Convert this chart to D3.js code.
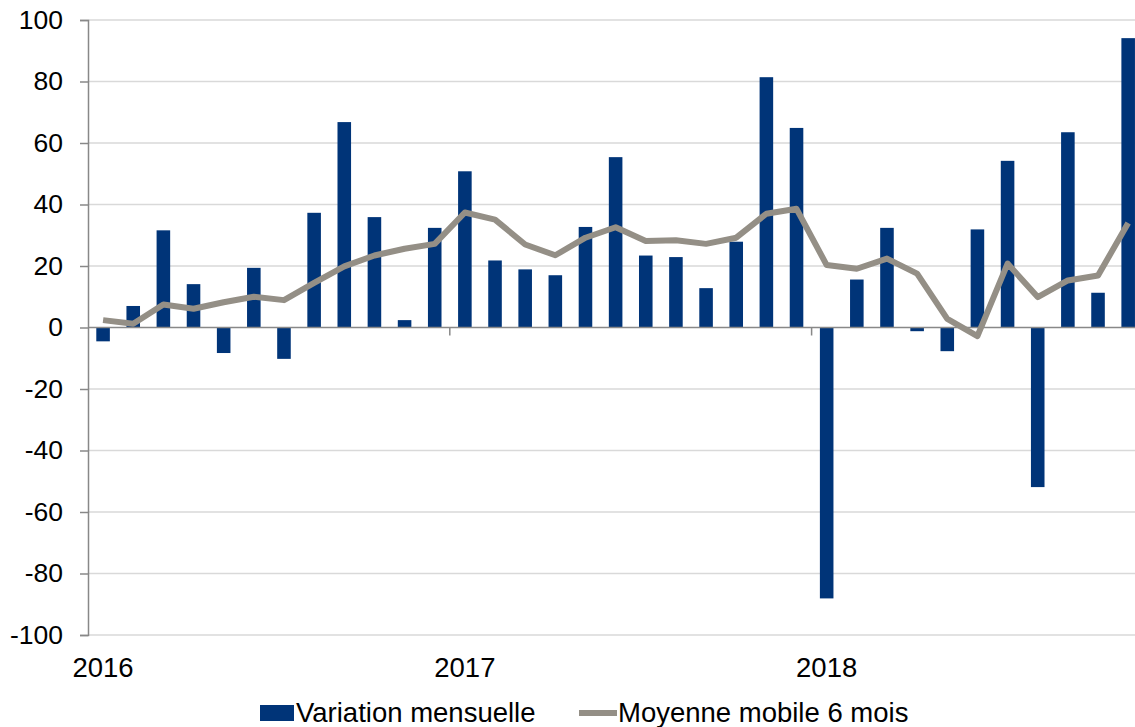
<!DOCTYPE html>
<html>
<head>
<meta charset="utf-8">
<script src="https://cdn.jsdelivr.net/npm/d3@7"></script>
<style>
  body { margin: 0; background: #fff; }
  svg { display: block; font-family: "Liberation Sans", Arial, sans-serif; }
</style>
</head>
<body>
<svg id="chart" width="1135" height="727"></svg>
<script>
// monthly data, Jan 2016 .. Nov 2018
const months = d3.range(35);
const variation = [-4.5, 7, 31.6, 14.1, -8.3, 19.4, -10.2, 37.3, 66.8, 35.9, 2.4, 32.4,
  50.8, 21.8, 18.9, 17.0, 32.7, 55.4, 23.4, 22.9, 12.8, 27.9, 81.4, 64.9,
  -88.1, 15.6, 32.4, -1.2, -7.7, 31.9, 54.2, -51.9, 63.5, 11.3, 94.1];
const moyenne = [2.4, 1.2, 7.5, 6.1, 8.2, 10.0, 8.9, 14.5, 19.9, 23.4, 25.6, 27.2,
  37.4, 35.1, 27.0, 23.5, 29.2, 32.6, 28.1, 28.4, 27.2, 29.2, 37.0, 38.6,
  20.3, 19.1, 22.4, 17.5, 2.8, -2.8, 20.8, 9.9, 15.3, 16.9, 34.0];
const yearLabels = ["2016", "2017", "2018"];
const yTicks = d3.range(-100, 101, 20);

const svg = d3.select("#chart");
const plotLeft = 88, plotTop = 20, plotBottom = 635;
const monthW = 30.15;

// axis spans 36 months, the picture is cut at the right edge
const x = d3.scaleBand()
    .domain(d3.range(36))
    .range([plotLeft, plotLeft + 36 * monthW])
    .paddingInner(0.55)
    .paddingOuter(0.275);

const y = d3.scaleLinear()
    .domain([-100, 100])
    .range([plotBottom, plotTop]);

// gridlines
svg.append("g")
    .selectAll("line")
    .data(yTicks.filter(d => d !== 0))
    .join("line")
    .attr("x1", plotLeft)
    .attr("x2", 1135)
    .attr("y1", d => y(d))
    .attr("y2", d => y(d))
    .attr("stroke", "#d9d9d9")
    .attr("stroke-width", 1.5);

// y axis (plain hyphen for negatives)
const yAxis = svg.append("g")
    .attr("transform", `translate(${plotLeft},0)`)
    .call(d3.axisLeft(y).tickValues(yTicks).tickFormat(d => String(d)).tickSize(8).tickPadding(17));
yAxis.select(".domain").attr("stroke", "#888").attr("stroke-width", 1.5);
yAxis.selectAll(".tick line").attr("stroke", "#888").attr("stroke-width", 1.5);
yAxis.selectAll("text")
    .attr("font-size", 26.5)
    .attr("fill", "#000")
    .attr("font-family", "Liberation Sans, Arial, sans-serif");

// bars
svg.append("g")
    .selectAll("rect")
    .data(months)
    .join("rect")
    .attr("x", i => x(i))
    .attr("width", x.bandwidth())
    .attr("y", i => y(Math.max(0, variation[i])))
    .attr("height", i => Math.abs(y(variation[i]) - y(0)))
    .attr("fill", "#003478");

// zero line and year ticks
svg.append("line")
    .attr("x1", plotLeft).attr("x2", 1135)
    .attr("y1", y(0)).attr("y2", y(0))
    .attr("stroke", "#888").attr("stroke-width", 1.5);

svg.append("g")
    .selectAll("line")
    .data([12, 24])
    .join("line")
    .attr("x1", i => plotLeft + i * monthW)
    .attr("x2", i => plotLeft + i * monthW)
    .attr("y1", y(0))
    .attr("y2", y(0) + 8)
    .attr("stroke", "#888")
    .attr("stroke-width", 1.5);

// moving average line
const line = d3.line()
    .x(i => x(i) + x.bandwidth() / 2)
    .y(i => y(moyenne[i]));

svg.append("path")
    .datum(months)
    .attr("d", line)
    .attr("fill", "none")
    .attr("stroke", "#948f86")
    .attr("stroke-width", 6)
    .attr("stroke-linejoin", "round");

// year labels
svg.append("g")
    .selectAll("text")
    .data(yearLabels)
    .join("text")
    .attr("x", (d, k) => x(k * 12) + x.bandwidth() / 2)
    .attr("y", 677)
    .attr("text-anchor", "middle")
    .attr("font-size", 27.5)
    .text(d => d);

// legend
const legend = svg.append("g");
legend.append("rect")
    .attr("x", 260).attr("y", 705)
    .attr("width", 34).attr("height", 16)
    .attr("fill", "#003478");
legend.append("text")
    .attr("x", 296).attr("y", 722)
    .attr("font-size", 27.5)
    .text("Variation mensuelle");
legend.append("line")
    .attr("x1", 579).attr("x2", 617)
    .attr("y1", 713).attr("y2", 713)
    .attr("stroke", "#948f86")
    .attr("stroke-width", 6);
legend.append("text")
    .attr("x", 618).attr("y", 722)
    .attr("font-size", 27.5)
    .text("Moyenne mobile 6 mois");
</script>
</body>
</html>
